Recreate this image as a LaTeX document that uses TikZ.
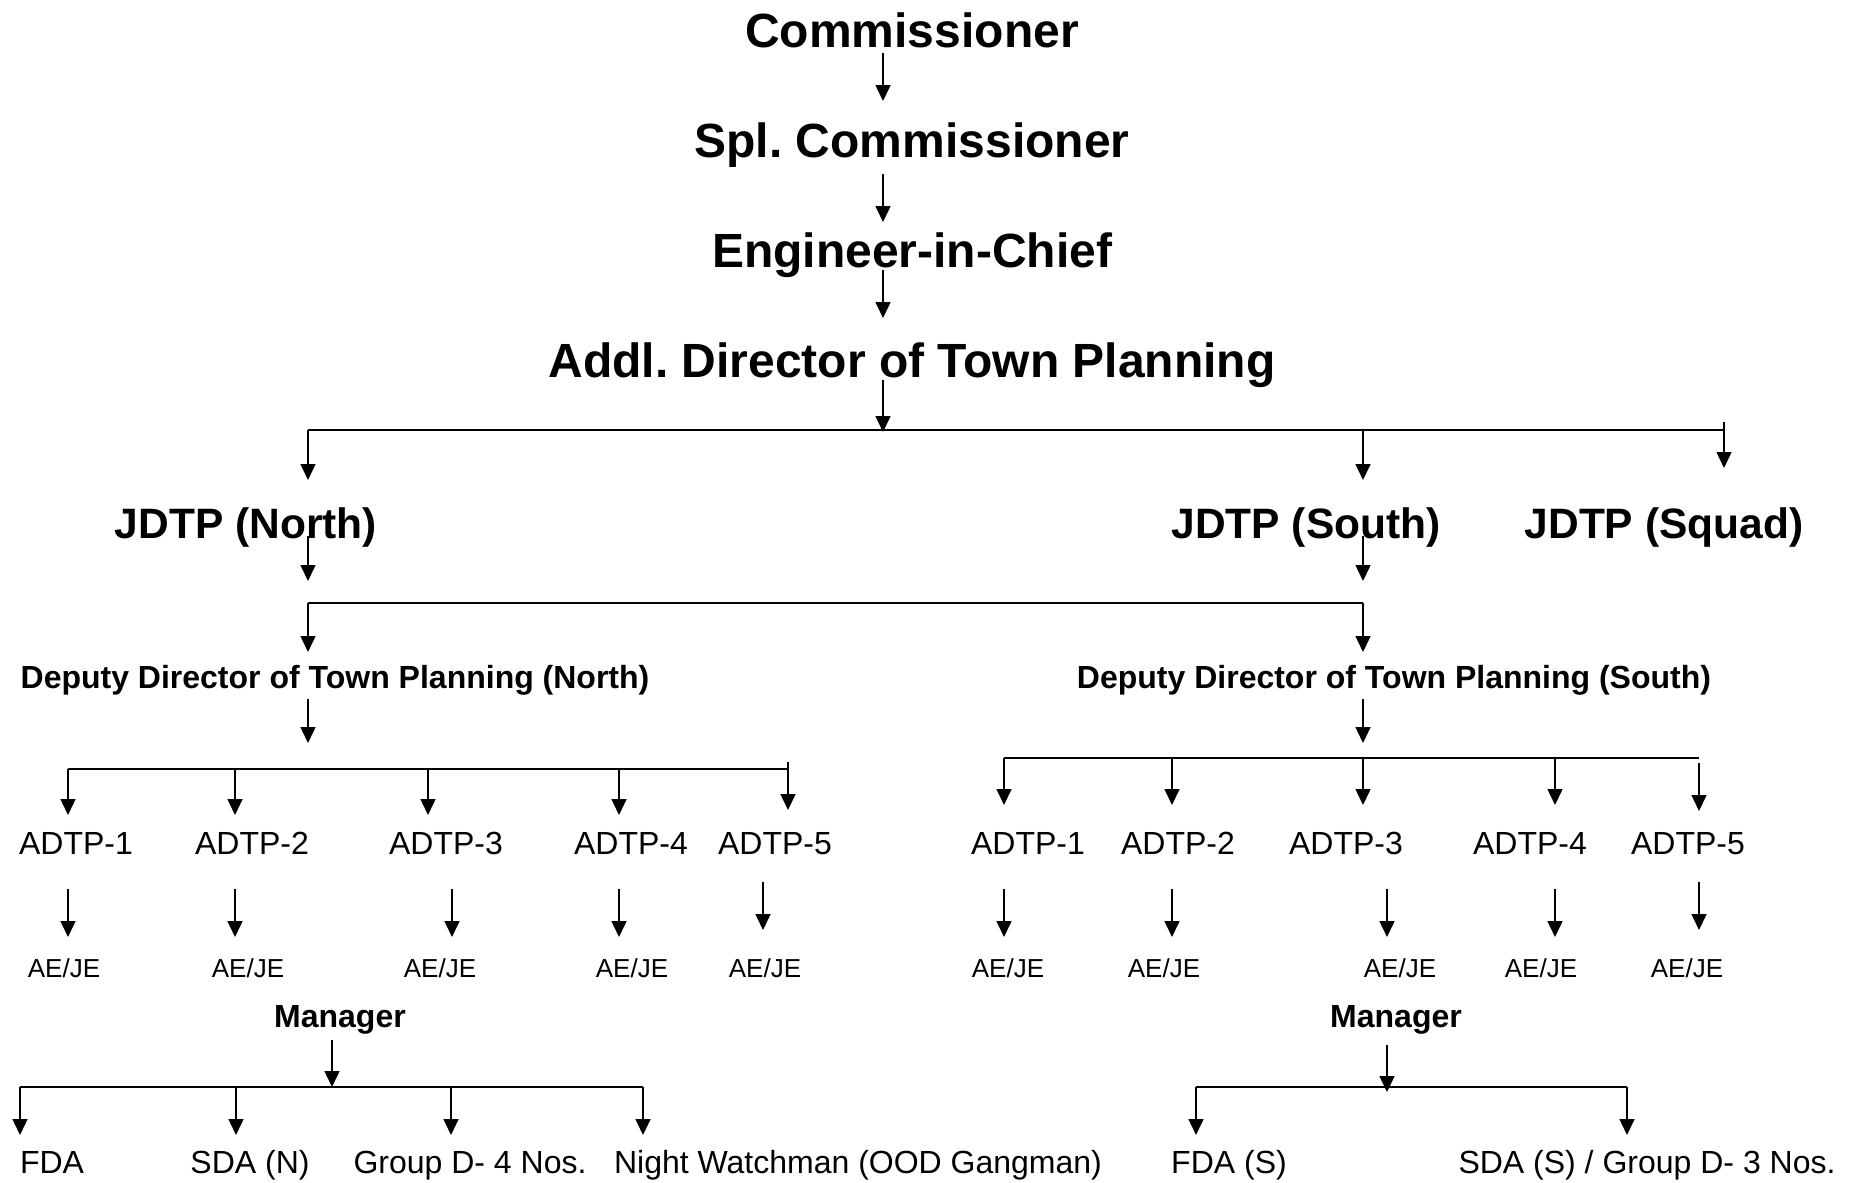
\documentclass[tikz,border=0pt]{standalone}
\usepackage{fontspec}
\setmainfont{Liberation Sans}
\usetikzlibrary{arrows.meta}
\frenchspacing

\begin{document}
\begin{tikzpicture}[x=1pt, y=-1pt]
	\tikzstyle{head} = [font={\fontsize{48}{50}\selectfont\bfseries}, anchor=base, inner sep=0pt];
	\tikzstyle{jdtp} = [font={\fontsize{42.5}{45}\selectfont\bfseries}, anchor=base, inner sep=0pt];
	\tikzstyle{deputy} = [font={\fontsize{32}{34}\selectfont\bfseries}, anchor=base, inner sep=0pt];
	\tikzstyle{post} = [font={\fontsize{32}{34}\selectfont}, anchor=base, inner sep=0pt];
	\tikzstyle{staff} = [font={\fontsize{26}{28}\selectfont}, anchor=base, inner sep=0pt];
	\tikzstyle{point} = [-{Triangle[length=16pt, width=15pt]}, line width=1.5pt];
	\tikzstyle{bar} = [line width=2.5pt];

	\useasboundingbox (0,0) rectangle (1858,1183);

	% chain of command
	\node[head] (comm) at (912,47) {Commissioner};
	\node[head] (spl) at (912,157) {Spl. Commissioner};
	\node[head] (eic) at (912,267) {Engineer-in-Chief};
	\node[head] (addl) at (912,377) {Addl. Director of Town Planning};

	\foreach \top/\bot [count=\xi] in {53/101, 174/222, 270/318, 380/432} {
		\coordinate (t\xi) at (883,\top);
		\coordinate (b\xi) at (883,\bot);
		\draw[point] (t\xi) -- (b\xi);
	}

	% joint directors
	\node[jdtp] (jn) at (246,538) {JDTP (North)};
	\node[jdtp] (js) at (1306,538) {JDTP (South)};
	\node[jdtp] (jq) at (1664,538) {JDTP (Squad)};

	\coordinate (barW) at (308,430);
	\coordinate (barS) at (1363,430);
	\coordinate (barE) at (1724,430);
	\coordinate (jqtop) at (1724,422);
	\coordinate (jnin) at (308,480);
	\coordinate (jsin) at (1363,480);
	\coordinate (jqin) at (1724,468);
	\draw[bar] (barW) -- (barE);
	\draw[point] (barW) -- (jnin);
	\draw[point] (barS) -- (jsin);
	\draw[point] (jqtop) -- (jqin);

	% deputy directors
	\node[deputy] (ddn) at (335,688) {Deputy Director of Town Planning (North)};
	\node[deputy] (dds) at (1394,688) {Deputy Director of Town Planning (South)};

	\coordinate (jnout) at (308,536);
	\coordinate (jnend) at (308,581);
	\coordinate (jsout) at (1363,536);
	\coordinate (jsend) at (1363,581);
	\coordinate (midW) at (308,603);
	\coordinate (midE) at (1363,603);
	\coordinate (ddnin) at (308,652);
	\coordinate (ddsin) at (1363,652);
	\draw[point] (jnout) -- (jnend);
	\draw[point] (jsout) -- (jsend);
	\draw[bar] (midW) -- (midE);
	\draw[point] (midW) -- (ddnin);
	\draw[point] (midE) -- (ddsin);

	\coordinate (ddnout) at (308,699);
	\coordinate (ddnend) at (308,743);
	\coordinate (ddsout) at (1363,699);
	\coordinate (ddsend) at (1363,743);
	\draw[point] (ddnout) -- (ddnend);
	\draw[point] (ddsout) -- (ddsend);

	% north ADTP row
	\foreach \ax/\lx/\bx/\jx [count=\xi] in {68/76/68/64, 235/252/235/248, 428/446/452/440, 619/631/619/632, 788/775/763/765} {
		\ifnum \xi < 5
			\coordinate (nt\xi) at (\ax,769);
			\coordinate (nh\xi) at (\ax,815);
			\coordinate (ns\xi) at (\bx,889);
			\coordinate (ne\xi) at (\bx,937);
		\else
			\coordinate (nt\xi) at (\ax,762);
			\coordinate (nh\xi) at (\ax,810);
			\coordinate (ns\xi) at (\bx,882);
			\coordinate (ne\xi) at (\bx,930);
		\fi
		\node[post] (nadtp\xi) at (\lx,854) {ADTP-\xi};
		\node[staff] (naeje\xi) at (\jx,977) {AE/JE};
		\draw[point] (nt\xi) -- (nh\xi);
		\draw[point] (ns\xi) -- (ne\xi);
	}
	\coordinate (nbarE) at (788,769);
	\draw[bar] (nt1) -- (nbarE);

	% south ADTP row
	\foreach \ax/\lx/\bx/\jx [count=\xi] in {1004/1028/1004/1008, 1172/1178/1172/1164, 1363/1346/1387/1400, 1555/1530/1555/1541, 1699/1688/1699/1687} {
		\ifnum \xi < 5
			\coordinate (st\xi) at (\ax,758);
			\coordinate (sh\xi) at (\ax,805);
			\coordinate (ss\xi) at (\bx,889);
			\coordinate (se\xi) at (\bx,937);
		\else
			\coordinate (st\xi) at (\ax,763);
			\coordinate (sh\xi) at (\ax,811);
			\coordinate (ss\xi) at (\bx,882);
			\coordinate (se\xi) at (\bx,930);
		\fi
		\node[post] (sadtp\xi) at (\lx,854) {ADTP-\xi};
		\node[staff] (saeje\xi) at (\jx,977) {AE/JE};
		\draw[point] (st\xi) -- (sh\xi);
		\draw[point] (ss\xi) -- (se\xi);
	}
	\coordinate (sbarE) at (1699,758);
	\draw[bar] (st1) -- (sbarE);

	% managers and their staff
	\node[deputy] (mgrn) at (340,1027) {Manager};
	\node[deputy] (mgrs) at (1396,1027) {Manager};

	\coordinate (mgrnout) at (332,1040);
	\coordinate (mgrnend) at (332,1087);
	\coordinate (mgrsout) at (1387,1045);
	\coordinate (mgrsend) at (1387,1092);
	\draw[point] (mgrnout) -- (mgrnend);
	\draw[point] (mgrsout) -- (mgrsend);

	\foreach \x/\lx/\txt [count=\xi] in {20/52/FDA, 236/250/SDA (N), 451/470/Group D- 4 Nos., 643/858/Night Watchman (OOD Gangman)} {
		\coordinate (nlt\xi) at (\x,1087);
		\coordinate (nlh\xi) at (\x,1135);
		\node[post] (nlow\xi) at (\lx,1173) {\txt};
		\draw[point] (nlt\xi) -- (nlh\xi);
	}
	\draw[bar] (nlt1) -- (nlt4);

	\foreach \x/\lx/\txt [count=\xi] in {1196/1229/{FDA (S)}, 1627/1647/{SDA (S) / Group D- 3 Nos.}} {
		\coordinate (slt\xi) at (\x,1087);
		\coordinate (slh\xi) at (\x,1135);
		\node[post] (slow\xi) at (\lx,1173) {\txt};
		\draw[point] (slt\xi) -- (slh\xi);
	}
	\draw[bar] (slt1) -- (slt2);
\end{tikzpicture}
\end{document}
